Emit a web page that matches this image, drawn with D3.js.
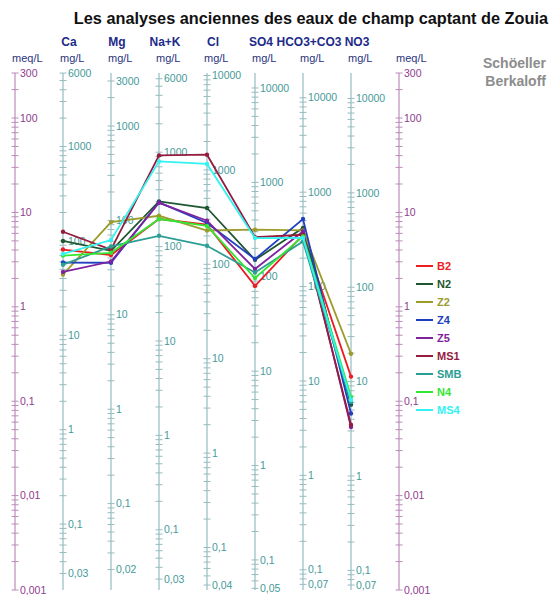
<!DOCTYPE html>
<html>
<head>
<meta charset="utf-8">
<script src="https://cdn.jsdelivr.net/npm/d3@7"></script>
<style>
  body { margin: 0; background: #fff; }
  text { font-family: "Liberation Sans", Arial, sans-serif; }
</style>
</head>
<body>
<div class="canvas"></div>
<script>
// Ions (columns) and their equivalent weights, mg per meq
const ions = ['Ca', 'Mg', 'Na+K', 'Cl', 'SO4', 'HCO3+CO3', 'NO3']
const eqWeights = [20.04, 12.15, 23, 35.45, 48.03, 61.02, 62]

// Labelled ticks on each mg/L axis (first = bottom, last = top)
const ionTicks = [
  [0.03, 0.1, 1, 10, 100, 1000, 6000],
  [0.02, 0.1, 1, 10, 100, 1000, 3000],
  [0.03, 0.1, 1, 10, 100, 1000, 6000],
  [0.04, 0.1, 1, 10, 100, 1000, 10000],
  [0.05, 0.1, 1, 10, 100, 1000, 10000],
  [0.07, 0.1, 1, 10, 100, 1000, 10000],
  [0.07, 0.1, 1, 10, 100, 1000, 10000]
]
const meqTicks = [0.001, 0.01, 0.1, 1, 10, 100, 300]

// Samples, mg/L in ion order
const samples = ['B2', 'N2', 'Z2', 'Z4', 'Z5', 'MS1', 'SMB', 'N4', 'MS4']
const B2 = [81, 43, 196, 263, 80, 352, 11.3]
const N2 = [100, 47.7, 301, 395, 151, 417, 5.7]
const Z2 = [44, 96, 212, 228, 315, 393, 19.7]
const Z4 = [59, 35.6, 294, 274, 154, 519, 4.6]
const Z5 = [47, 36.7, 291, 290, 121, 384, 3.3]
const MS1 = [125, 49, 925, 1450, 263, 354, 3.5]
const SMB = [56, 53, 130, 157, 111, 301, 6.1]
const N4 = [70, 45.4, 196, 255, 97, 340, 6.9]
const MS4 = [73, 62, 799, 1156, 257, 327, 6.4]
const values = [B2, N2, Z2, Z4, Z5, MS1, SMB, N4, MS4]
const colors = ['#ec1c24', '#1f5530', '#9c9c2c', '#2040c0', '#7e22a0', '#951c3e', '#2c9e94', '#33e633', '#33f2f2']

const svg = d3.select('.canvas')
  .append('svg')
  .attr('width', 551)
  .attr('height', 595)

const fmt = v => String(v).replace('.', ',')

// Scales
const x = d3.scalePoint()
  .domain(['meqL', ...ions, 'meqR'])
  .range([15, 399])

const meq = d3.scaleLog()
  .domain([0.001, 300])
  .range([590, 73])

// every 1..9 x 10^n value between lo and hi
const minorTicks = (lo, hi) => {
  const out = []
  for (let e = -4; e <= 5; e++) {
    for (let k = 1; k <= 9; k++) {
      const v = +(k * Math.pow(10, e)).toPrecision(3)
      if (v >= lo * 0.999 && v <= hi * 1.001) out.push(v)
    }
  }
  return out
}

const drawAxis = (xPos, scale, labels, lineColor, textColor) => {
  const g = svg.append('g').attr('transform', `translate(${xPos}, 0)`)
  g.append('line')
    .attr('y1', meq(300)).attr('y2', meq(0.001))
    .attr('stroke', lineColor).attr('stroke-width', 1.2)
  g.selectAll('.tick')
    .data(minorTicks(labels[0], labels[labels.length - 1]))
    .enter().append('line')
    .attr('x1', -3.5).attr('x2', 3.5)
    .attr('y1', d => scale(d)).attr('y2', d => scale(d))
    .attr('stroke', lineColor).attr('stroke-width', 1)
  g.selectAll('.lbl')
    .data(labels)
    .enter().append('text')
    .attr('x', 5)
    .attr('y', d => scale(d))
    .attr('dy', '0.35em')
    .attr('font-size', 10.5)
    .attr('fill', textColor)
    .text(fmt)
}

// meq/L axes
drawAxis(x('meqL'), meq, meqTicks, '#bb8cbb', '#8e3a8e')
drawAxis(x('meqR'), meq, meqTicks, '#bb8cbb', '#8e3a8e')

// mg/L axes
const ionScales = eqWeights.map(w => d3.scaleLog()
  .domain([0.001 * w, 300 * w])
  .range([590, 73]))
ions.forEach((ion, i) => {
  drawAxis(x(ion), ionScales[i], ionTicks[i], '#96bcc0', '#459a9a')
})

// Title and headers
svg.append('text')
  .attr('x', 548).attr('y', 24)
  .attr('text-anchor', 'end')
  .attr('font-size', 16.3).attr('font-weight', 'bold')
  .attr('fill', '#111')
  .text('Les analyses anciennes des eaux de champ captant de Zouia')

svg.selectAll('.ionName')
  .data(ions)
  .enter().append('text')
  .attr('x', d => x(d) + 6).attr('y', 46)
  .attr('text-anchor', 'middle')
  .attr('font-size', 12).attr('font-weight', 'bold')
  .attr('fill', '#1c2a8a')
  .text(d => d)

svg.selectAll('.unit')
  .data(['meqL', ...ions, 'meqR'])
  .enter().append('text')
  .attr('x', d => x(d) - 3).attr('y', 62)
  .attr('font-size', 11)
  .attr('fill', '#2a3580')
  .text(d => d.startsWith('meq') ? 'meq/L' : 'mg/L')

svg.append('text')
  .attr('x', 546).attr('y', 68)
  .attr('text-anchor', 'end')
  .attr('font-size', 14).attr('font-weight', 'bold')
  .attr('fill', '#8c8c8c')
  .text('Schöeller')
svg.append('text')
  .attr('x', 546).attr('y', 86)
  .attr('text-anchor', 'end')
  .attr('font-size', 14).attr('font-weight', 'bold')
  .attr('fill', '#8c8c8c')
  .text('Berkaloff')

// Sample lines
const line = d3.line()
  .x((d, i) => x(ions[i]))
  .y((d, i) => ionScales[i](d))

const series = svg.selectAll('.series')
  .data(values)
  .enter().append('g')

series.append('path')
  .attr('d', line)
  .attr('fill', 'none')
  .attr('stroke', (d, i) => colors[i])
  .attr('stroke-width', 1.8)

series.selectAll('circle')
  .data(d => d)
  .enter().append('circle')
  .attr('cx', (d, i) => x(ions[i]))
  .attr('cy', (d, i) => ionScales[i](d))
  .attr('r', 2.2)
  .attr('fill', function () { return d3.select(this.parentNode).select('path').attr('stroke') })

// Legend
const legend = svg.selectAll('.legend')
  .data(samples)
  .enter().append('g')
  .attr('transform', (d, i) => `translate(416, ${266 + i * 18})`)

legend.append('line')
  .attr('x1', 0).attr('x2', 17)
  .attr('stroke', (d, i) => colors[i])
  .attr('stroke-width', 2)
legend.append('text')
  .attr('x', 21).attr('dy', '0.35em')
  .attr('font-size', 11).attr('font-weight', 'bold')
  .attr('fill', (d, i) => colors[i])
  .text(d => d)
</script>
</body>
</html>
